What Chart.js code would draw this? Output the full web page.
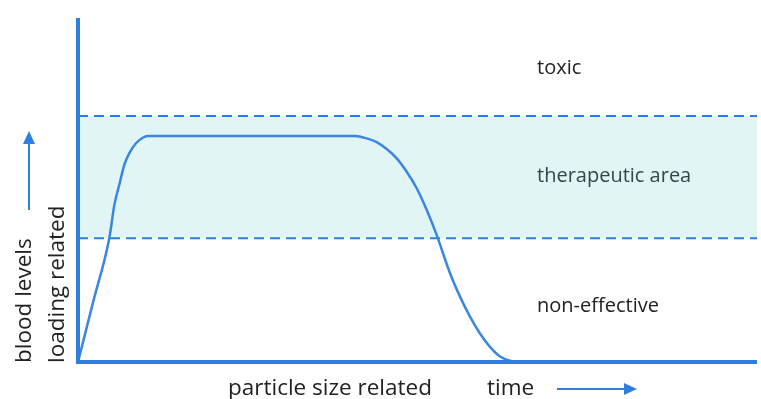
<!DOCTYPE html>
<html>
<head>
<meta charset="utf-8">
<script src="https://cdn.jsdelivr.net/npm/chart.js@4.4.0/dist/chart.umd.min.js"></script>
<style>
  html, body { margin: 0; padding: 0; background: #fff; }
  #wrap { width: 761px; height: 399px; }
</style>
</head>
<body>
<div id="wrap"><canvas id="chart"></canvas></div>
<script>
// curve (x = time, y = blood level, both 0..100)
const timeX  = [0, 2.3, 4.61, 5.35, 6.08, 6.82, 7.56, 8.54, 9.53, 10.27, 38.59, 40.8, 42.52, 43.99, 45.46, 46.94, 48.41, 49.88, 51.36, 52.83, 54.79, 56.26, 57.73, 59.2, 60.68, 62.15, 63.62, 65.5, 100];
const levelY = [0, 18.0, 36.0, 45.6, 51.5, 57.3, 60.7, 63.6, 65.2, 65.7, 65.7, 65.7, 65.0, 63.9, 61.9, 59.2, 55.3, 50.5, 44.2, 36.9, 25.8, 19.0, 13.2, 8.3, 4.4, 1.6, 0.4, 0, 0];

const xRange = [0, 100];
const yRange = [0, 100];
const bandLow = 36;
const bandHigh = 71.5;

const zoneLabels = ['toxic', 'therapeutic area', 'non-effective'];
const yTitle = ['blood levels', 'loading related'];
const xTitle = ['particle size related', 'time'];

const blue = '#2f7fe0';
const font = '"Open Sans", sans-serif';

const arrow = (ctx, x1, y1, x2, y2) => {
  const a = Math.atan2(y2 - y1, x2 - x1);
  const head = 13, half = 6;
  ctx.save();
  ctx.strokeStyle = blue;
  ctx.fillStyle = blue;
  ctx.lineWidth = 2;
  ctx.beginPath();
  ctx.moveTo(x1, y1);
  ctx.lineTo(x2 - head * Math.cos(a), y2 - head * Math.sin(a));
  ctx.stroke();
  ctx.translate(x2, y2);
  ctx.rotate(a);
  ctx.beginPath();
  ctx.moveTo(0, 0);
  ctx.lineTo(-head, -half);
  ctx.lineTo(-head, half);
  ctx.closePath();
  ctx.fill();
  ctx.restore();
};

const decor = {
  id: 'decor',
  afterDatasetsDraw(chart) {
    const {ctx, chartArea: a, scales: {x, y}} = chart;
    ctx.save();
    // axes
    ctx.strokeStyle = blue;
    ctx.lineWidth = 4;
    ctx.lineCap = 'butt';
    ctx.beginPath();
    ctx.moveTo(a.left, a.top);
    ctx.lineTo(a.left, a.bottom + 2);
    ctx.moveTo(a.left - 2, a.bottom);
    ctx.lineTo(a.right, a.bottom);
    ctx.stroke();

    // zone labels
    ctx.font = '20px ' + font;
    ctx.textBaseline = 'middle';
    ctx.textAlign = 'left';
    const tx = x.getPixelForValue(67.6);
    ctx.fillStyle = '#222';
    ctx.fillText(zoneLabels[0], tx, y.getPixelForValue((yRange[1] + bandHigh) / 2) + 1);
    ctx.fillStyle = '#33474a';
    ctx.fillText(zoneLabels[1], tx, y.getPixelForValue((bandLow + bandHigh) / 2) - 1);
    ctx.fillStyle = '#222';
    ctx.fillText(zoneLabels[2], tx, y.getPixelForValue(bandLow / 2) + 6);

    // y title, rotated
    ctx.font = '22.5px ' + font;
    ctx.fillStyle = '#222';
    ctx.textBaseline = 'alphabetic';
    ctx.save();
    ctx.translate(31, a.bottom + 1);
    ctx.rotate(-Math.PI / 2);
    ctx.fillText(yTitle[0], 0, 0);
    ctx.restore();
    ctx.save();
    ctx.translate(64, a.bottom + 1);
    ctx.rotate(-Math.PI / 2);
    ctx.fillText(yTitle[1], 0, 0);
    ctx.restore();
    arrow(ctx, 29, 210, 29, 131);

    // x title
    ctx.fillText(xTitle[0], 228, 395);
    ctx.fillText(xTitle[1], 487, 395);
    arrow(ctx, 557, 389, 637, 389);
    ctx.restore();
  }
};

new Chart(document.getElementById('chart'), {
  type: 'line',
  data: {
    datasets: [
      {
        label: 'upper',
        data: xRange.map(v => ({x: v, y: bandHigh})),
        borderColor: blue,
        borderWidth: 2,
        borderDash: [10, 6],
        backgroundColor: '#e1f5f4',
        fill: '+1',
        pointRadius: 0,
        order: 2
      },
      {
        label: 'lower',
        data: xRange.map(v => ({x: v, y: bandLow})),
        borderColor: blue,
        borderWidth: 2,
        borderDash: [10, 6],
        fill: false,
        pointRadius: 0,
        order: 1
      },
      {
        label: 'level',
        data: timeX.map((v, i) => ({x: v, y: levelY[i]})),
        borderColor: '#3a86e0',
        borderWidth: 2.5,
        cubicInterpolationMode: 'monotone',
        fill: false,
        pointRadius: 0,
        order: 0
      }
    ]
  },
  options: {
    responsive: true,
    maintainAspectRatio: false,
    animation: false,
    layout: { padding: { left: 78, right: 4, top: 18, bottom: 37 } },
    scales: {
      x: { type: 'linear', min: xRange[0], max: xRange[1], display: false },
      y: { type: 'linear', min: yRange[0], max: yRange[1], display: false }
    },
    plugins: {
      legend: { display: false },
      tooltip: { enabled: false }
    }
  },
  plugins: [decor]
});
</script>
</body>
</html>
